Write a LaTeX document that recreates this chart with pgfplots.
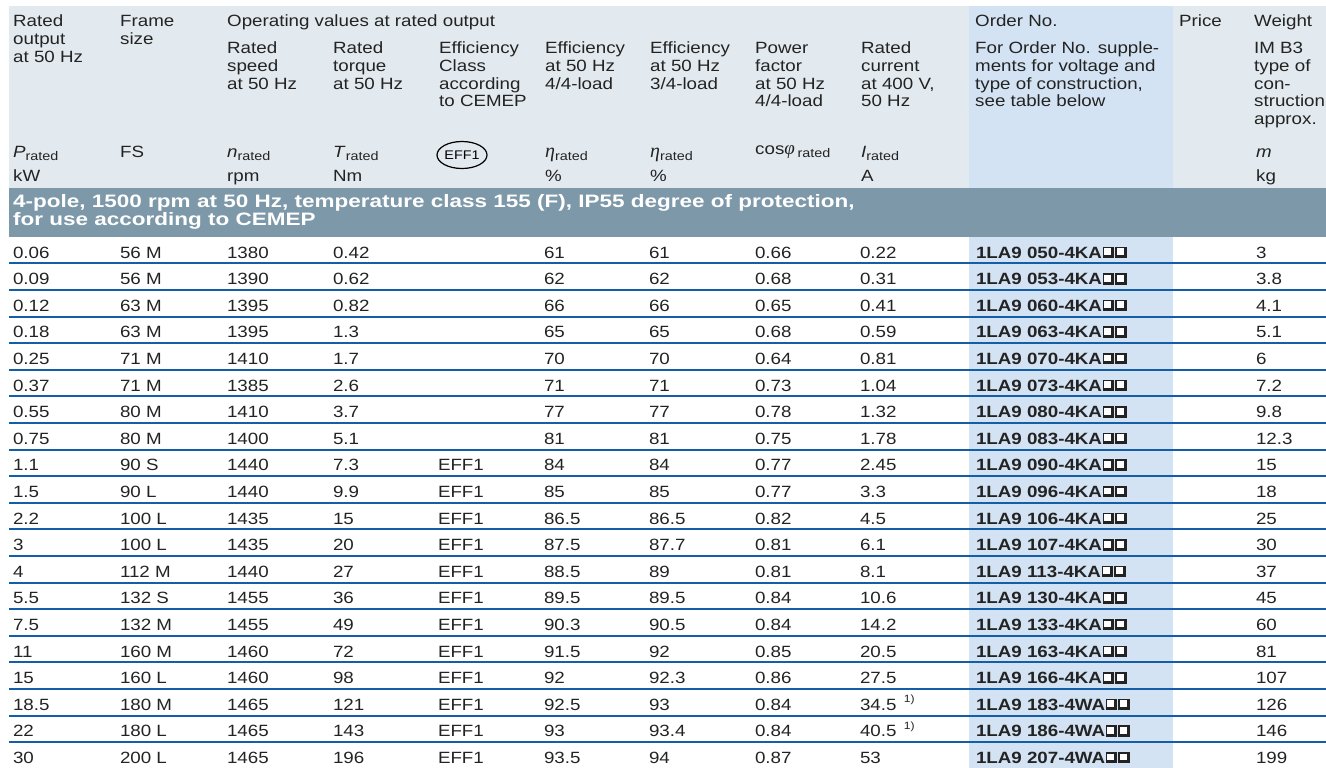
\documentclass[border=0pt]{standalone}
\usepackage{pgfplots}
\pgfplotsset{compat=1.18}
\usepackage{pgfplotstable}
\usepackage{fontspec}
\setmainfont[FakeStretch=1.15]{Liberation Sans}
\newfontfamily\bandfont[FakeStretch=1.25]{Liberation Sans}
\newfontfamily\grk{Liberation Serif}
\usetikzlibrary{shapes.geometric}
\definecolor{hdrbg}{RGB}{227,234,239}
\definecolor{ordbg}{RGB}{212,227,243}
\definecolor{band}{RGB}{125,152,168}
\definecolor{rowline}{RGB}{20,94,168}
\definecolor{txt}{RGB}{35,35,35}
\newcommand\ff{\fontsize{16.3}{17.8}\selectfont}
\newcommand\onebox{\rlap{\rule{11.5pt}{11.5pt}}\hspace{1.6pt}\rlap{\raisebox{3pt}{\color{white}\rule{7pt}{6.9pt}}}\hspace{11pt}}
\newcommand\boxes{\hspace{0.5pt}\onebox\onebox}
\DeclareRobustCommand\fn{\hspace{0.45em}\raisebox{0.45em}{\fontsize{10.5}{10.5}\selectfont 1)}}
\newcommand\sub[1]{\raisebox{-3pt}{\fontsize{12.5}{12.5}\selectfont #1}}
\newcommand\hd[3]{\node[anchor=base west,inner sep=0pt,text=txt,font=\ff] at (axis cs:#1,#2) {\begin{tabular}[t]{@{}l@{}}#3\end{tabular}};}

\pgfplotstableread[col sep=semicolon]{
r;P;FS;n;T;cls;eff;effd;pf;I;ord;m
0;0.06;56 M;1380;0.42;;61;61;0.66;0.22;1LA9 050-4KA;3
1;0.09;56 M;1390;0.62;;62;62;0.68;0.31;1LA9 053-4KA;3.8
2;0.12;63 M;1395;0.82;;66;66;0.65;0.41;1LA9 060-4KA;4.1
3;0.18;63 M;1395;1.3;;65;65;0.68;0.59;1LA9 063-4KA;5.1
4;0.25;71 M;1410;1.7;;70;70;0.64;0.81;1LA9 070-4KA;6
5;0.37;71 M;1385;2.6;;71;71;0.73;1.04;1LA9 073-4KA;7.2
6;0.55;80 M;1410;3.7;;77;77;0.78;1.32;1LA9 080-4KA;9.8
7;0.75;80 M;1400;5.1;;81;81;0.75;1.78;1LA9 083-4KA;12.3
8;1.1;90 S;1440;7.3;EFF1;84;84;0.77;2.45;1LA9 090-4KA;15
9;1.5;90 L;1440;9.9;EFF1;85;85;0.77;3.3;1LA9 096-4KA;18
10;2.2;100 L;1435;15;EFF1;86.5;86.5;0.82;4.5;1LA9 106-4KA;25
11;3;100 L;1435;20;EFF1;87.5;87.7;0.81;6.1;1LA9 107-4KA;30
12;4;112 M;1440;27;EFF1;88.5;89;0.81;8.1;1LA9 113-4KA;37
13;5.5;132 S;1455;36;EFF1;89.5;89.5;0.84;10.6;1LA9 130-4KA;45
14;7.5;132 M;1455;49;EFF1;90.3;90.5;0.84;14.2;1LA9 133-4KA;60
15;11;160 M;1460;72;EFF1;91.5;92;0.85;20.5;1LA9 163-4KA;81
16;15;160 L;1460;98;EFF1;92;92.3;0.86;27.5;1LA9 166-4KA;107
17;18.5;180 M;1465;121;EFF1;92.5;93;0.84;34.5\fn;1LA9 183-4WA;126
18;22;180 L;1465;143;EFF1;93;93.4;0.84;40.5\fn;1LA9 186-4WA;146
19;30;200 L;1465;196;EFF1;93.5;94;0.87;53;1LA9 207-4WA;199
}\motors

\pgfplotsset{
  txtcol/.style={only marks, mark=*, mark size=0pt, mark options={draw=none,fill=none},
    point meta=explicit symbolic, nodes near coords={\pgfplotspointmeta},
    nodes near coords style={anchor=base west, inner sep=0pt, outer sep=0pt, font=\ff, text=txt}},
}

\begin{document}
\begin{tikzpicture}
\begin{axis}[width=1326pt, height=768pt, scale only axis, hide axis,
  xmin=0, xmax=1326, ymin=0, ymax=768, y dir=reverse, clip=false]
% backgrounds
\addplot[fill=hdrbg, draw=none] coordinates {(9,6) (1326,6) (1326,188) (9,188)} -- cycle;
\addplot[fill=ordbg, draw=none] coordinates {(969,6) (1173,6) (1173,768) (969,768)} -- cycle;
\addplot[fill=band, draw=none] coordinates {(9,188) (1326,188) (1326,237) (9,237)} -- cycle;
% row lines
\addplot[rowline, line width=2pt, unbounded coords=jump] coordinates {
(9,263.3) (1326,263.3) (nan,nan)
(9,289.9) (1326,289.9) (nan,nan)
(9,316.5) (1326,316.5) (nan,nan)
(9,343.1) (1326,343.1) (nan,nan)
(9,369.7) (1326,369.7) (nan,nan)
(9,396.3) (1326,396.3) (nan,nan)
(9,422.9) (1326,422.9) (nan,nan)
(9,449.5) (1326,449.5) (nan,nan)
(9,476.1) (1326,476.1) (nan,nan)
(9,502.7) (1326,502.7) (nan,nan)
(9,529.3) (1326,529.3) (nan,nan)
(9,555.9) (1326,555.9) (nan,nan)
(9,582.5) (1326,582.5) (nan,nan)
(9,609.1) (1326,609.1) (nan,nan)
(9,635.7) (1326,635.7) (nan,nan)
(9,662.3) (1326,662.3) (nan,nan)
(9,688.9) (1326,688.9) (nan,nan)
(9,715.5) (1326,715.5) (nan,nan)
(9,742.1) (1326,742.1) (nan,nan)
};
% data
\addplot[txtcol] table[x expr=13,  y expr=258+26.6*\thisrow{r}, meta=P] {\motors};
\addplot[txtcol] table[x expr=120, y expr=258+26.6*\thisrow{r}, meta=FS] {\motors};
\addplot[txtcol] table[x expr=227, y expr=258+26.6*\thisrow{r}, meta=n] {\motors};
\addplot[txtcol] table[x expr=333, y expr=258+26.6*\thisrow{r}, meta=T] {\motors};
\addplot[txtcol] table[x expr=438, y expr=258+26.6*\thisrow{r}, meta=cls] {\motors};
\addplot[txtcol] table[x expr=544, y expr=258+26.6*\thisrow{r}, meta=eff] {\motors};
\addplot[txtcol] table[x expr=649, y expr=258+26.6*\thisrow{r}, meta=effd] {\motors};
\addplot[txtcol] table[x expr=755, y expr=258+26.6*\thisrow{r}, meta=pf] {\motors};
\addplot[txtcol] table[x expr=860, y expr=258+26.6*\thisrow{r}, meta=I] {\motors};
\addplot[txtcol, nodes near coords={\bfseries\pgfplotspointmeta\boxes}] table[x expr=976, y expr=258+26.6*\thisrow{r}, meta=ord] {\motors};
\addplot[txtcol] table[x expr=1256, y expr=258+26.6*\thisrow{r}, meta=m] {\motors};
% header
\hd{13}{27}{Rated\\output\\at 50 Hz}
\hd{120}{27}{Frame\\size}
\hd{227}{27}{Operating values at rated output}
\hd{227}{53.5}{Rated\\speed\\at 50 Hz}
\hd{333}{53.5}{Rated\\torque\\at 50 Hz}
\hd{439}{53.5}{Efficiency\\Class\\according\\to CEMEP}
\hd{545}{53.5}{Efficiency\\at 50 Hz\\4/4-load}
\hd{650}{53.5}{Efficiency\\at 50 Hz\\3/4-load}
\hd{755}{53.5}{Power\\factor\\at 50 Hz\\4/4-load}
\hd{861}{53.5}{Rated\\current\\at 400 V,\\50 Hz}
\hd{975}{27}{Order No.}
\hd{975}{53.5}{For Order No. supple-\\ments for voltage and\\type of construction,\\see table below}
\hd{1179}{27}{Price}
\hd{1254}{27}{Weight}
\hd{1254}{53.5}{IM B3\\type of\\con-\\struction\\approx.}
% symbols
\hd{13}{157}{\textit{P}\sub{rated}}
\hd{120}{157}{FS}
\hd{227}{157}{\textit{n}\sub{rated}}
\hd{333}{157}{\textit{T}\sub{rated}}
\hd{545}{157}{{\grk\itshape\fontsize{20}{20}\selectfont η}\sub{rated}}
\hd{650}{157}{{\grk\itshape\fontsize{20}{20}\selectfont η}\sub{rated}}
\hd{755}{154}{cos{\grk\itshape\fontsize{19}{19}\selectfont φ}\,\sub{rated}}
\hd{861}{157}{\textit{I}\sub{rated}}
\hd{1256}{157}{\textit{m}}
\node[ellipse, draw=black, line width=1.2pt, minimum width=50pt, minimum height=27pt, inner sep=0pt, font=\fontsize{12.5}{12.5}\selectfont] at (axis cs:462,155) {EFF1};
% units
\hd{13}{181}{kW}
\hd{227}{181}{rpm}
\hd{333}{181}{Nm}
\hd{545}{181}{\%}
\hd{650}{181}{\%}
\hd{861}{181}{A}
\hd{1256}{181}{kg}
% band
\node[anchor=base west, inner sep=0pt, text=white, font=\bandfont\bfseries\fontsize{18}{18}\selectfont] at (axis cs:13,207) {4-pole, 1500 rpm at 50 Hz, temperature class 155 (F), IP55 degree of protection,};
\node[anchor=base west, inner sep=0pt, text=white, font=\bandfont\bfseries\fontsize{18}{18}\selectfont] at (axis cs:13,225) {for use according to CEMEP};
\end{axis}
\pgfresetboundingbox
\useasboundingbox (current axis.south west) rectangle (current axis.north east);
\end{tikzpicture}
\end{document}
